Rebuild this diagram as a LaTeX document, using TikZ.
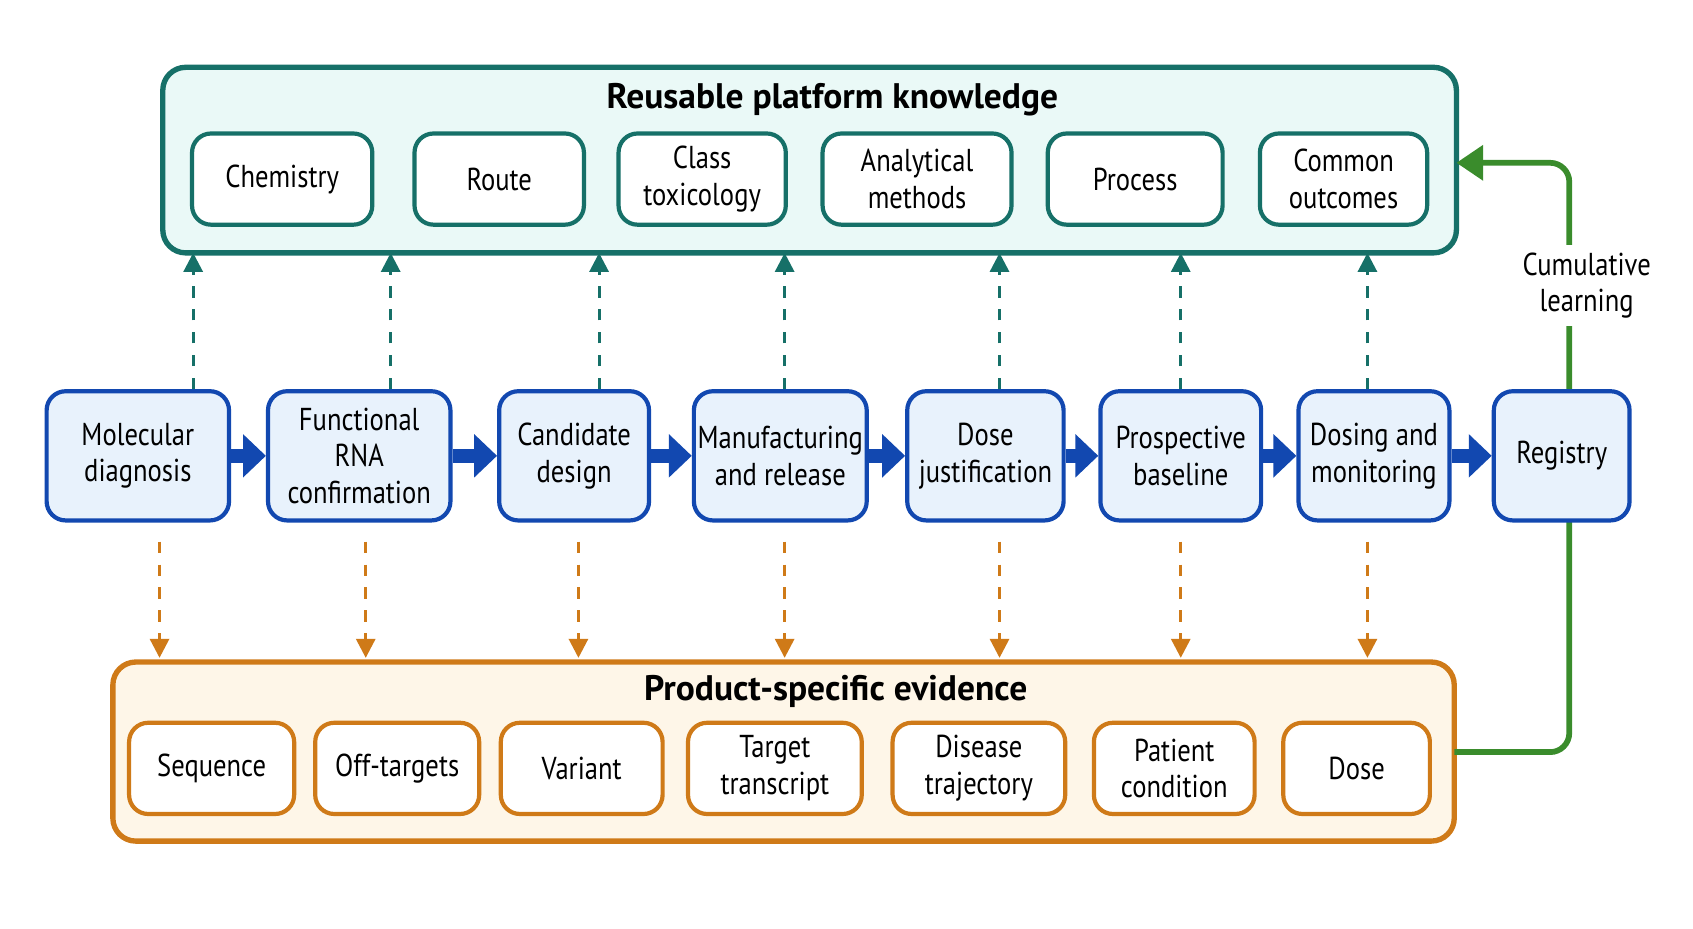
\documentclass[tikz,border=0pt]{standalone}
\usepackage{fontspec}
\setmainfont{PT Sans}
\newfontfamily\narrowfont[FakeStretch=0.84]{PT Sans}
\usetikzlibrary{arrows.meta,positioning}
\definecolor{tealc}{RGB}{22,112,104}
\definecolor{tealf}{RGB}{234,249,247}
\definecolor{bluec}{RGB}{18,72,176}
\definecolor{bluef}{RGB}{232,242,252}
\definecolor{orc}{RGB}{207,122,24}
\definecolor{orf}{RGB}{254,246,232}
\definecolor{grc}{RGB}{58,140,44}
\tikzset{
  frame/.style={draw,rounded corners=6pt,line width=1.4pt},
  boxtext/.style={align=center,inner sep=1pt,font=\narrowfont\fontsize{8.3}{9.6}\selectfont},
  tealbox/.style={boxtext,draw=tealc,fill=white,rounded corners=5pt,line width=1.1pt},
  orbox/.style={boxtext,draw=orc,fill=white,rounded corners=5pt,line width=1.1pt},
  stepbox/.style={boxtext,draw=bluec,fill=bluef,rounded corners=5pt,line width=1.1pt},
  flow/.style={bluec,line width=3.5pt,-{Triangle[length=6pt,width=11pt]}},
  upd/.style={tealc,dashed,line width=0.8pt,-{Triangle[length=5pt,width=5pt]}},
  dnd/.style={orc,dashed,line width=0.8pt,-{Triangle[length=5pt,width=5pt]}}
}
\begin{document}
\begin{tikzpicture}[x=0.01cm,y=-0.01cm]
\useasboundingbox (0,0) rectangle (1560,856);
% reusable platform knowledge
\draw[frame,draw=tealc,fill=tealf] (150,62) rectangle (1342,233);
\node[font=\bfseries\fontsize{9.3}{10}\selectfont] (toptitle) at (767,92) {Reusable platform knowledge};
\coordinate (topS) at (746,233);
\node[tealbox,minimum width=1.66cm,minimum height=0.84cm] (chem) at (260,165) {Chemistry};
\node[tealbox,minimum width=1.56cm,minimum height=0.84cm] (route) at (460,165) {Route};
\node[tealbox,minimum width=1.54cm,minimum height=0.84cm] (tox) at (647,165) {Class\\toxicology};
\node[tealbox,minimum width=1.74cm,minimum height=0.84cm] (anal) at (845,165) {Analytical\\methods};
\node[tealbox,minimum width=1.61cm,minimum height=0.84cm] (proc) at (1046,165) {Process};
\node[tealbox,minimum width=1.54cm,minimum height=0.84cm] (common) at (1238,165) {Common\\outcomes};
% product-specific evidence
\draw[frame,draw=orc,fill=orf] (104,610) rectangle (1340,775);
\node[font=\bfseries\fontsize{9.3}{10}\selectfont] (bottitle) at (770,637) {Product-specific evidence};
\node[orbox,minimum width=1.52cm,minimum height=0.84cm] (seq) at (195,708) {Sequence};
\node[orbox,minimum width=1.51cm,minimum height=0.84cm] (off) at (366,708) {Off-targets};
\node[orbox,minimum width=1.49cm,minimum height=0.84cm] (var) at (536,708) {Variant};
\node[orbox,minimum width=1.60cm,minimum height=0.84cm] (targ) at (714,708) {Target\\transcript};
\node[orbox,minimum width=1.59cm,minimum height=0.84cm] (dis) at (902,708) {Disease\\trajectory};
\node[orbox,minimum width=1.48cm,minimum height=0.84cm] (pat) at (1082,708) {Patient\\condition};
\node[orbox,minimum width=1.35cm,minimum height=0.84cm] (dose) at (1250,708) {Dose};
% green feedback
\coordinate (fbA) at (1446,693);
\coordinate (fbB) at (1446,150);
\coordinate (topE) at (1342,150);
\draw[grc,line width=1.5pt,rounded corners=5pt,-{Triangle[length=7pt,width=9pt]}] (1340,693) -- (fbA) -- (fbB) -- (topE);
\node[fill=white,boxtext,inner sep=2pt] (cum) at (1462,263) {Cumulative\\learning};
% pipeline
\node[stepbox,minimum width=1.68cm,minimum height=1.19cm] (mol) at (127,420) {Molecular\\diagnosis};
\node[stepbox,minimum width=1.68cm,minimum height=1.19cm] (func) at (331,420) {Functional\\RNA\\confirmation};
\node[stepbox,minimum width=1.38cm,minimum height=1.19cm] (cand) at (529,420) {Candidate\\design};
\node[stepbox,minimum width=1.58cm,minimum height=1.19cm] (manu) at (719,420) {Manufacturing\\and release};
\node[stepbox,minimum width=1.44cm,minimum height=1.19cm] (dj) at (908,420) {Dose\\justification};
\node[stepbox,minimum width=1.48cm,minimum height=1.19cm] (pros) at (1088,420) {Prospective\\baseline};
\node[stepbox,minimum width=1.39cm,minimum height=1.19cm] (dosing) at (1266,420) {Dosing and\\monitoring};
\node[stepbox,minimum width=1.25cm,minimum height=1.19cm] (reg) at (1439,420) {Registry};
\foreach \a/\b in {mol/func,func/cand,cand/manu,manu/dj,dj/pros,pros/dosing,dosing/reg}
  \draw[flow] (\a.east) -- (\b.west);
% links to the two layers
\foreach \n/\u/\d in {mol/178/147,func/360/337,cand/552/533,manu/723/723,dj/921/921,pros/1088/1088,dosing/1260/1260}{
  \draw[upd] (\n.north -| \u,0) -- (topS -| \u,0);
  \draw[dnd] ([yshift=-5pt]\n.south -| \d,0) -- ([yshift=1pt]bottitle.north -| \d,610);
}
\end{tikzpicture}
\end{document}
